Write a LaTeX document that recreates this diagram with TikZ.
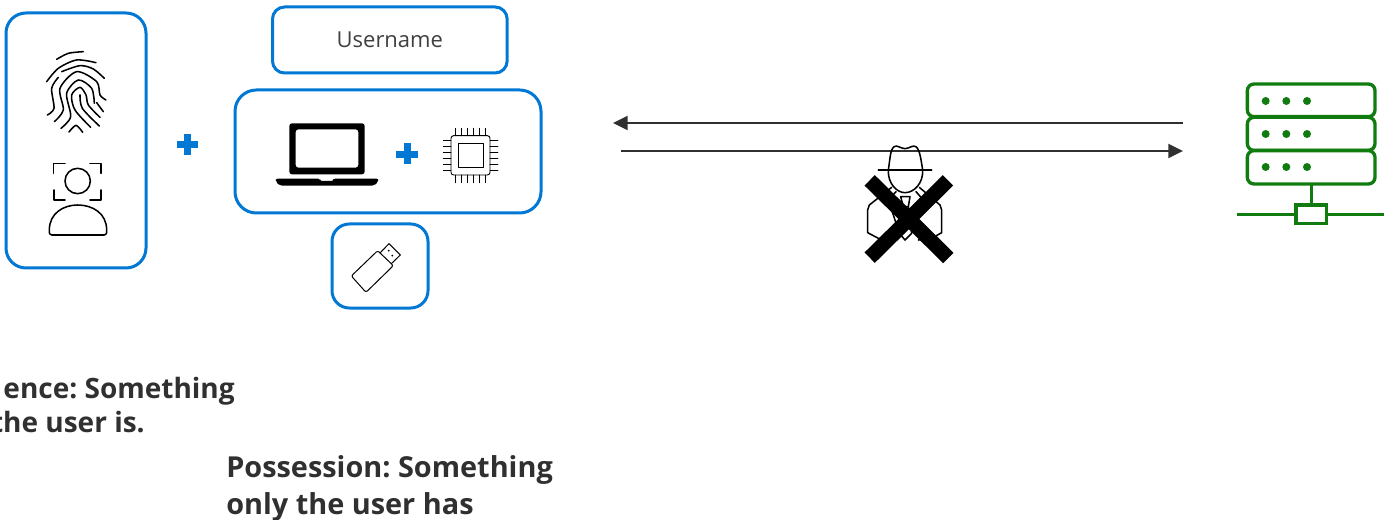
\documentclass[tikz,border=0pt]{standalone}
\usepackage{fontspec}
\setmainfont{Open Sans}
\usetikzlibrary{arrows.meta}
\definecolor{msblue}{HTML}{0078D4}
\definecolor{msgreen}{HTML}{107C10}
\definecolor{darkline}{HTML}{303030}
\tikzset{
  x=0.75pt,y=-0.75pt,
  bluebox/.style={draw=msblue,line width=2.25pt,fill=white,inner sep=0pt,outer sep=0pt,anchor=north west},
  ink/.style={draw=black,line width=1.15pt,line cap=round,line join=round},
  thinink/.style={draw=black,line width=0.7pt,line cap=round,line join=round},
  fine/.style={draw=black,line width=0.75pt,line cap=round,line join=round},
  srv/.style={draw=msgreen,line width=2.5pt,rounded corners=5pt},
  flow/.style={draw=darkline,line width=1.6pt,-{Triangle[length=11pt,width=10.5pt]}},
  caption/.style={font=\bfseries\fontsize{21.65pt}{26pt}\selectfont\frenchspacing,text=darkline,inner sep=0pt},
  captionb/.style={font=\bfseries\fontsize{21pt}{26pt}\selectfont\frenchspacing,text=darkline,inner sep=0pt},
}
\begin{document}
\begin{tikzpicture}
\useasboundingbox (0,0) rectangle (1384,520);
% boxes
\draw[bluebox,rounded corners=15pt] (6,13) rectangle (146,268);
\node[bluebox,rounded corners=9pt,minimum width=176pt,minimum height=49.5pt,font=\fontsize{16.5pt}{20pt}\selectfont,text=black!75] (username) at (272.5,7) {Username};
\draw[bluebox,rounded corners=16pt] (235,90) rectangle (541,213);
\draw[bluebox,rounded corners=13pt] (332,224) rectangle (428,308);
% plus signs
\fill[msblue] (177,141) rectangle (198,148); \fill[msblue] (184,134) rectangle (191,155);
\fill[msblue] (396,151) rectangle (418,158); \fill[msblue] (403.5,143.5) rectangle (410.5,164.5);
% fingerprint
\begin{scope}[scale=1/3,ink]
\draw plot[smooth] coordinates {(170,178) (205,160) (250,155)};
\draw plot[smooth] coordinates {(140,245) (175,205) (230,180) (288,188)};
\draw plot[smooth] coordinates {(185,215) (240,197) (280,207) (313,235)};
\draw plot[smooth] coordinates {(142,345) (162,325) (155,265) (175,232)};
\draw plot[smooth] coordinates {(163,365) (190,330) (180,265) (230,215) (290,245) (300,285) (318,300)};
\draw plot[smooth] coordinates {(183,385) (212,350) (200,280) (235,240) (275,265) (283,310)};
\draw plot[smooth] coordinates {(207,396) (228,376) (248,397)};
\draw plot[smooth] coordinates {(272,382) (225,330) (215,285) (240,262) (258,285) (265,315) (300,352)};
\draw plot[smooth] coordinates {(240,285) (247,325) (298,378)};
\draw plot[smooth] coordinates {(290,308) (310,335)};
\end{scope}
% face scan person
\begin{scope}[scale=1/3,ink]
\draw (160,520) -- (160,490) -- (195,490);
\draw (270,490) -- (303,490) -- (303,520);
\draw (162,570) -- (162,600) -- (195,600);
\draw (270,600) -- (303,600) -- (303,570);
\draw (233,543) circle[radius=38];
\draw (155,705) .. controls (148,705) and (148,700) .. (148,690) .. controls (148,640) and (190,615) .. (233,615) .. controls (278,615) and (320,640) .. (320,690) .. controls (320,700) and (320,705) .. (313,705) -- cycle;
\end{scope}
% laptop
\begin{scope}[shift={(230,0)},scale=1/3]
\fill[black,even odd rule,rounded corners=2pt] (178,523) -- (178,370) -- (404,370) -- (404,523) -- cycle (197,388) rectangle (385,503);
\fill[black,rounded corners=1.5pt] (137,536) -- (270,536) -- (270,543) -- (310,543) -- (310,536) -- (445,536) -- (445,545) -- (432,557) -- (150,557) -- (137,545) -- cycle;
\end{scope}
% chip
\begin{scope}[shift={(230,0)},scale=1/3,thinink]
\draw[rounded corners=2pt] (663,407) rectangle (780,525);
\draw (685,429) rectangle (759,503);
\foreach \p in {677,695,713,731,749,767} {\draw (\p,385) -- (\p,407); \draw (\p,525) -- (\p,548);}
\foreach \p in {420,438,456,474,492,510} {\draw (640,\p) -- (663,\p); \draw (780,\p) -- (804,\p);}
\end{scope}
% usb stick
\begin{scope}[shift={(230,0)},scale=1/3,fine]
\draw[rounded corners=1.5pt] (364,828) -- (443,752) -- (490,797) -- (408,877) -- cycle;
\draw (450,759) -- (477,731) -- (511,765) -- (484,791);
\fill (476,752) circle[radius=3]; \fill (487,767) circle[radius=3];
\end{scope}
% arrows
\coordinate (leftTop) at (613,123);
\coordinate (rightTop) at (1183,123);
\coordinate (leftBottom) at (621,151);
\coordinate (rightBottom) at (1183,151);
\draw[flow] (rightTop) -- (leftTop);
\draw[flow] (leftBottom) -- (rightBottom);
% hacker
\begin{scope}[shift={(840,130)},scale=1/3,ink]
\draw (145,120) .. controls (150,90) and (150,60) .. (162,50) .. controls (172,44) and (180,55) .. (195,56) .. controls (210,55) and (218,44) .. (228,50) .. controls (240,60) and (243,90) .. (248,120);
\draw (115,120) -- (275,120);
\draw (145,120) .. controls (143,160) and (170,188) .. (195,188) .. controls (222,188) and (250,160) .. (248,120);
\draw (155,172) -- (88,225) -- (83,240) -- (83,308) -- (115,325) -- (160,330);
\draw (238,172) -- (300,225) -- (305,240) -- (305,308) -- (275,325) -- (235,330);
\draw (168,185) -- (145,210) -- (175,300);
\draw (228,185) -- (250,210) -- (220,300);
\draw (182,200) -- (210,200) -- (205,230) -- (190,230) -- cycle;
\draw (190,230) -- (178,310) -- (195,330) -- (215,310) -- (205,230);
\end{scope}
\begin{scope}[shift={(840,130)},scale=1/3]
\draw[black,line width=11pt] (89,151) -- (325,384);
\draw[black,line width=11pt] (324,151) -- (89,383);
\end{scope}
% server
\begin{scope}[shift={(1170,70)},scale=1/3]
\draw[srv] (232,42) rectangle (615,140);
\draw[srv] (232,142) rectangle (615,241);
\draw[srv] (232,242) rectangle (615,342);
\foreach \yy in {93,192,291} \foreach \xx in {287,349,411} \fill[msgreen] (\xx,\yy) circle[radius=12];
\draw[msgreen,line width=2.5pt] (424,342) -- (424,405);
\draw[msgreen,line width=2.5pt] (200,433) -- (378,433);
\draw[msgreen,line width=2.5pt] (470,433) -- (643,433);
\draw[msgreen,line width=2.5pt] (378,405) rectangle (470,460);
\end{scope}
% captions
\node[captionb,anchor=base east] (inh1) at (235,398) {ence: Something};
\node[captionb,anchor=base east] (inh2) at (145,432) {the user is.};
\node[caption,anchor=base west] (pos1) at (226,477) {Possession: Something};
\node[caption,anchor=base west] (pos2) at (226,514) {only the user has};
\end{tikzpicture}
\end{document}
